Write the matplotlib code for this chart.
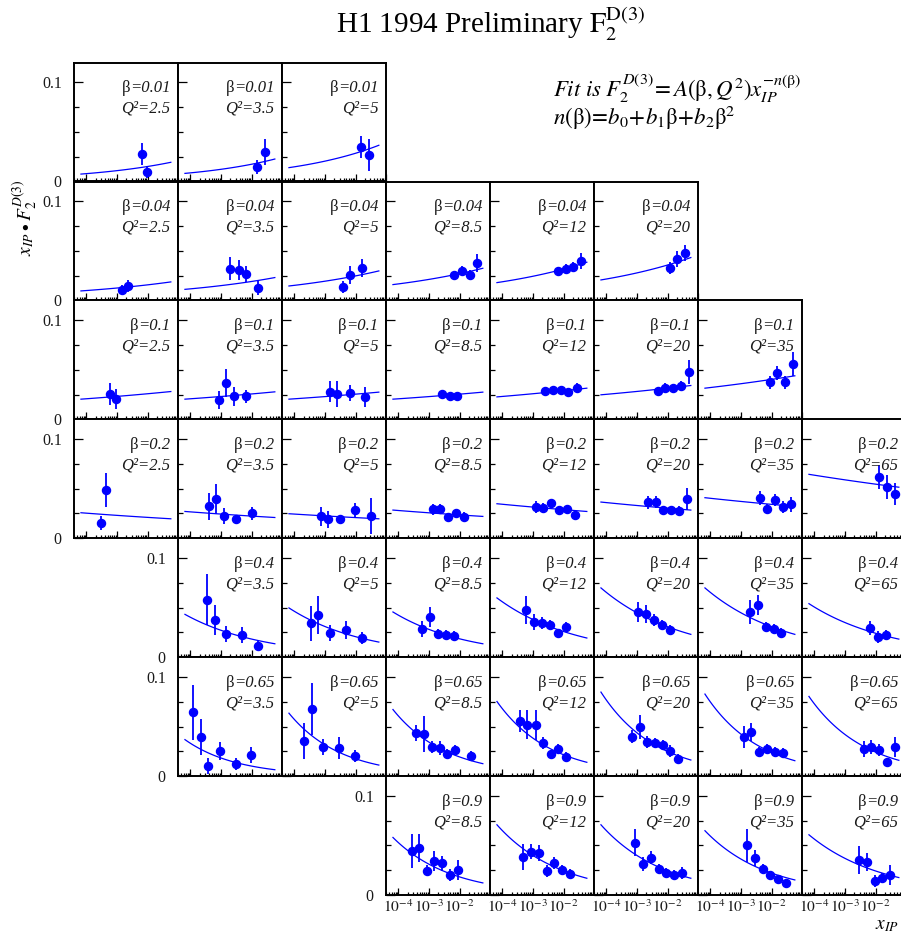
import numpy as np
import matplotlib
matplotlib.use('Agg')
import matplotlib.pyplot as plt
from matplotlib.offsetbox import TextArea, HPacker, VPacker, AnchoredOffsetbox
from matplotlib.ticker import LogLocator, FixedLocator, MultipleLocator, FixedFormatter, NullFormatter

plt.rcParams['font.family'] = ['Liberation Serif', 'DejaVu Serif']
plt.rcParams['mathtext.fontset'] = 'stix'

# ---------------- data ----------------
BETA_LABELS = ['0.01', '0.04', '0.1', '0.2', '0.4', '0.65', '0.9']
Q2_LABELS = ['2.5', '3.5', '5', '8.5', '12', '20', '35', '65']
ROW_COLS = [[0, 1, 2], [0, 1, 2, 3, 4, 5], [0, 1, 2, 3, 4, 5, 6],
            [0, 1, 2, 3, 4, 5, 6, 7], [1, 2, 3, 4, 5, 6, 7],
            [1, 2, 3, 4, 5, 6, 7], [3, 4, 5, 6, 7]]

FIT_XMIN, FIT_XMAX = 6.6e-5, 0.057
XLIM = (4e-5, 0.1)
YLIM = (0.0, 0.12)
XTICKS = [1e-4, 1e-3, 1e-2, 1e-1]
XTICK_LABELS = [r'$10^{-4}$', r'$10^{-3}$', r'$10^{-2}$', '']

# beta = 0.01
logx_b001 = [[-2.20, -2.03], [-1.82, -1.58], [-1.82, -1.57]]
f2_b001 = [[0.0274, 0.0091], [0.0145, 0.0297], [0.0351, 0.0270]]
err_b001 = [[0.011, 0.006], [0.007, 0.013], [0.011, 0.016]]
fit_b001 = [(0.0074, 0.0193), (0.0081, 0.0226), (0.0139, 0.0365)]

# beta = 0.04
logx_b004 = [[-2.84, -2.64], [-2.70, -2.43, -2.18, -1.80], [-2.43, -2.18, -1.80],
             [-2.18, -1.92, -1.67, -1.43], [-2.19, -1.94, -1.69, -1.43], [-1.94, -1.69, -1.43]]
f2_b004 = [[0.0108, 0.0149], [0.0321, 0.0304, 0.0264, 0.0125], [0.0139, 0.0257, 0.0328],
           [0.0253, 0.0294, 0.0257, 0.0375], [0.0294, 0.0314, 0.0334, 0.0395], [0.0331, 0.0416, 0.0476]]
err_b004 = [[0.005, 0.006], [0.012, 0.010, 0.008, 0.007], [0.006, 0.009, 0.009],
            [0.004, 0.005, 0.005, 0.009], [0.004, 0.005, 0.005, 0.008], [0.006, 0.008, 0.008]]
fit_b004 = [(0.0095, 0.0186), (0.0111, 0.0230), (0.0145, 0.0297),
            (0.0159, 0.0324), (0.0179, 0.0385), (0.0206, 0.0432)]

# beta = 0.1
logx_b01 = [[-3.23, -3.04], [-3.08, -2.84, -2.59, -2.19], [-2.84, -2.60, -2.20, -1.71],
            [-2.57, -2.33, -2.08], [-2.60, -2.35, -2.10, -1.85, -1.58],
            [-2.33, -2.08, -1.82, -1.58, -1.32], [-2.07, -1.83, -1.58, -1.32]]
f2_b01 = [[0.0253, 0.0203], [0.0196, 0.0368, 0.0230, 0.0230], [0.0280, 0.0257, 0.0264, 0.0223],
          [0.0257, 0.0236, 0.0230], [0.0284, 0.0297, 0.0291, 0.0277, 0.0318],
          [0.0287, 0.0314, 0.0311, 0.0341, 0.0476], [0.0372, 0.0466, 0.0372, 0.0561]]
err_b01 = [[0.011, 0.010], [0.009, 0.014, 0.010, 0.007], [0.011, 0.013, 0.008, 0.010],
           [0.003, 0.003, 0.003], [0.004, 0.004, 0.003, 0.004, 0.005],
           [0.004, 0.005, 0.005, 0.005, 0.012], [0.007, 0.007, 0.007, 0.012]]
fit_b01 = [(0.0203, 0.0280), (0.0203, 0.0277), (0.0203, 0.0274), (0.0203, 0.0274),
           (0.0226, 0.0314), (0.0247, 0.0341), (0.0314, 0.0439)]

# beta = 0.2
logx_b02 = [[-3.54, -3.35], [-3.41, -3.15, -2.90, -2.50, -1.99], [-3.13, -2.89, -2.50, -2.01, -1.49],
            [-2.88, -2.65, -2.39, -2.13, -1.87], [-2.90, -2.66, -2.41, -2.16, -1.90, -1.63],
            [-2.65, -2.39, -2.15, -1.89, -1.62, -1.37], [-2.39, -2.14, -1.89, -1.62, -1.37],
            [-1.88, -1.62, -1.36]]
f2_b02 = [[0.0152, 0.0486], [0.0321, 0.0395, 0.0223, 0.0189, 0.0250],
          [0.0220, 0.0189, 0.0189, 0.0284, 0.0226], [0.0290, 0.0297, 0.0213, 0.0257, 0.0216],
          [0.0314, 0.0301, 0.0358, 0.0284, 0.0290, 0.0233],
          [0.0361, 0.0365, 0.0284, 0.0284, 0.0277, 0.0395],
          [0.0402, 0.0294, 0.0389, 0.0318, 0.0341], [0.0618, 0.0517, 0.0449]]
err_b02 = [[0.007, 0.017], [0.014, 0.015, 0.008, 0.005, 0.007], [0.010, 0.009, 0.005, 0.007, 0.018],
           [0.006, 0.005, 0.004, 0.004, 0.005], [0.006, 0.005, 0.004, 0.004, 0.004, 0.004],
           [0.007, 0.006, 0.004, 0.004, 0.005, 0.011], [0.007, 0.005, 0.006, 0.006, 0.008],
           [0.012, 0.012, 0.011]]
fit_b02 = [(0.0257, 0.0196), (0.0270, 0.0209), (0.0247, 0.0196), (0.0284, 0.0220),
           (0.0348, 0.0270), (0.0365, 0.0284), (0.0409, 0.0321), (0.0645, 0.0515)]

# beta = 0.4
logx_b04 = [[-3.46, -3.20, -2.83, -2.31, -1.80], [-3.47, -3.22, -2.83, -2.32, -1.81],
            [-3.22, -2.96, -2.70, -2.45, -2.19], [-3.22, -2.96, -2.72, -2.45, -2.19, -1.94],
            [-2.96, -2.70, -2.45, -2.19, -1.94], [-2.71, -2.46, -2.20, -1.94, -1.68],
            [-2.19, -1.93, -1.67]]
f2_b04 = [[0.0581, 0.0372, 0.0233, 0.0220, 0.0111], [0.0341, 0.0426, 0.0247, 0.0277, 0.0193],
          [0.0280, 0.0409, 0.0236, 0.0226, 0.0213], [0.0473, 0.0355, 0.0341, 0.0321, 0.0247, 0.0307],
          [0.0453, 0.0432, 0.0375, 0.0321, 0.0277], [0.0456, 0.0524, 0.0304, 0.0284, 0.0240],
          [0.0297, 0.0203, 0.0223]]
err_b04 = [[0.026, 0.015, 0.008, 0.008, 0.005], [0.018, 0.019, 0.008, 0.009, 0.006],
           [0.008, 0.010, 0.005, 0.005, 0.005], [0.014, 0.008, 0.006, 0.005, 0.004, 0.005],
           [0.010, 0.009, 0.006, 0.005, 0.005], [0.012, 0.010, 0.005, 0.005, 0.005],
           [0.007, 0.006, 0.005]]
fit_b04 = [(0.0432, 0.0135), (0.0497, 0.0152), (0.0456, 0.0135), (0.0598, 0.0193),
           (0.0699, 0.0230), (0.0699, 0.0230), (0.0540, 0.0182)]

# beta = 0.65
logx_b065 = [[-3.93, -3.67, -3.42, -3.02, -2.52, -2.02], [-3.69, -3.43, -3.06, -2.54, -2.01],
             [-3.43, -3.17, -2.91, -2.65, -2.40, -2.15, -1.63],
             [-3.43, -3.19, -2.92, -2.68, -2.43, -2.17, -1.91],
             [-3.18, -2.91, -2.66, -2.41, -2.16, -1.91, -1.65],
             [-2.92, -2.66, -2.41, -2.16, -1.90, -1.64], [-2.39, -2.14, -1.89, -1.64, -1.37]]
f2_b065 = [[0.0642, 0.0392, 0.0098, 0.0257, 0.0118, 0.0213], [0.0351, 0.0676, 0.0294, 0.0280, 0.0206],
           [0.0439, 0.0422, 0.0294, 0.0284, 0.0223, 0.0260, 0.0199],
           [0.0557, 0.0520, 0.0514, 0.0338, 0.0223, 0.0270, 0.0196],
           [0.0399, 0.0493, 0.0345, 0.0331, 0.0318, 0.0250, 0.0176],
           [0.0392, 0.0446, 0.0240, 0.0270, 0.0247, 0.0230], [0.0274, 0.0290, 0.0264, 0.0142, 0.0297]]
err_b065 = [[0.028, 0.018, 0.008, 0.009, 0.006, 0.008], [0.018, 0.026, 0.008, 0.011, 0.006],
            [0.008, 0.018, 0.006, 0.007, 0.005, 0.005, 0.005],
            [0.011, 0.015, 0.015, 0.006, 0.004, 0.005, 0.005],
            [0.007, 0.012, 0.006, 0.005, 0.005, 0.006, 0.005],
            [0.011, 0.009, 0.005, 0.005, 0.005, 0.005], [0.008, 0.007, 0.006, 0.003, 0.010]]
fit_b065 = [(0.0368, 0.0064), (0.0635, 0.0111), (0.0672, 0.0125), (0.0753, 0.0139),
            (0.0848, 0.0162), (0.0828, 0.0155), (0.0804, 0.0159)]

# beta = 0.9
logx_b09 = [[-3.56, -3.32, -3.07, -2.83, -2.57, -2.32, -2.06],
            [-3.34, -3.08, -2.82, -2.56, -2.31, -2.06, -1.81],
            [-3.08, -2.82, -2.55, -2.30, -2.04, -1.78, -1.54],
            [-2.82, -2.55, -2.30, -2.04, -1.78, -1.53], [-2.54, -2.29, -2.03, -1.78, -1.52]]
f2_b09 = [[0.0446, 0.0473, 0.0247, 0.0345, 0.0318, 0.0199, 0.0253],
          [0.0385, 0.0439, 0.0426, 0.0240, 0.0321, 0.0250, 0.0213],
          [0.0530, 0.0314, 0.0378, 0.0260, 0.0220, 0.0199, 0.0220],
          [0.0500, 0.0375, 0.0264, 0.0206, 0.0166, 0.0125], [0.0355, 0.0334, 0.0139, 0.0176, 0.0203]]
err_b09 = [[0.017, 0.014, 0.006, 0.010, 0.008, 0.006, 0.010],
           [0.013, 0.008, 0.008, 0.006, 0.006, 0.005, 0.005],
           [0.014, 0.007, 0.007, 0.005, 0.005, 0.005, 0.006],
           [0.017, 0.008, 0.005, 0.004, 0.004, 0.004], [0.014, 0.009, 0.006, 0.005, 0.010]]
fit_b09 = [(0.0581, 0.0122), (0.0709, 0.0169), (0.0709, 0.0169), (0.0649, 0.0152), (0.0608, 0.0176)]

ROWS_LOGX = [logx_b001, logx_b004, logx_b01, logx_b02, logx_b04, logx_b065, logx_b09]
ROWS_F2 = [f2_b001, f2_b004, f2_b01, f2_b02, f2_b04, f2_b065, f2_b09]
ROWS_ERR = [err_b001, err_b004, err_b01, err_b02, err_b04, err_b065, err_b09]
ROWS_FIT = [fit_b001, fit_b004, fit_b01, fit_b02, fit_b04, fit_b065, fit_b09]

# ---------------- layout ----------------
W, H = 901, 938
fig = plt.figure(figsize=(W / 100, H / 100), dpi=100)
BLUE = '#0000ff'
TXT = '#1a1a1a'

COL0, COLW = 74.3, 104.0
ROW0, ROWH = 181.4, 118.93
PW, PH = 104.0, 118.8

for r, cols in enumerate(ROW_COLS):
    for k, c in enumerate(cols):
        left = (COL0 + COLW * c) / W
        bottom = 1 - (ROW0 + ROWH * r) / H
        ax = fig.add_axes([left, bottom, PW / W, PH / H])
        ax.set_xscale('log')
        ax.set_xlim(*XLIM)
        ax.set_ylim(*YLIM)

        x = np.power(10.0, ROWS_LOGX[r][k])
        y = np.array(ROWS_F2[r][k])
        e = np.array(ROWS_ERR[r][k])
        lo, hi = ROWS_FIT[r][k]
        xx = np.logspace(np.log10(FIT_XMIN), np.log10(FIT_XMAX), 120)
        p = np.log(hi / lo) / np.log(FIT_XMAX / FIT_XMIN)
        ax.plot(xx, lo * (xx / FIT_XMIN) ** p, color=BLUE, lw=0.9, zorder=2)
        ax.errorbar(x, y, yerr=e, fmt='o', color=BLUE, ms=5.8, mec=BLUE,
                    elinewidth=1.3, capsize=0, zorder=3)

        for s in ax.spines.values():
            s.set_linewidth(1.4)
            s.set_color('black')

        ax.yaxis.set_major_locator(FixedLocator([0.0, 0.1]))
        ax.yaxis.set_minor_locator(MultipleLocator(0.025))
        ax.xaxis.set_major_locator(FixedLocator(XTICKS))
        ax.xaxis.set_minor_locator(LogLocator(base=10, subs=np.arange(2, 10), numticks=20))
        ax.xaxis.set_minor_formatter(NullFormatter())
        ax.yaxis.set_minor_formatter(NullFormatter())
        ax.tick_params(which='both', direction='in', top=False, right=False, width=0.9)
        ax.tick_params(axis='x', which='major', length=5.0)
        ax.tick_params(axis='x', which='minor', length=2.5)
        ax.tick_params(axis='y', which='major', length=6.5)
        ax.tick_params(axis='y', which='minor', length=3.5)

        if k == 0:
            ax.yaxis.set_major_formatter(FixedFormatter(['0', '0.1']))
            ax.tick_params(axis='y', labelsize=11.5, pad=9, labelcolor=TXT)
        else:
            ax.tick_params(axis='y', labelleft=False)
        if r == len(ROW_COLS) - 1:
            ax.xaxis.set_major_formatter(FixedFormatter(XTICK_LABELS))
            ax.tick_params(axis='x', labelsize=11.2, pad=3, labelcolor=TXT)
        else:
            ax.tick_params(axis='x', labelbottom=False)

        # panel label
        fs = 12
        l1 = HPacker(children=[TextArea('β', textprops=dict(fontsize=fs, color=TXT)),
                               TextArea('=' + BETA_LABELS[r],
                                        textprops=dict(fontsize=fs, style='italic', color=TXT))],
                     align='baseline', pad=0, sep=0)
        l2 = TextArea('Q²=' + Q2_LABELS[c],
                      textprops=dict(fontsize=fs, style='italic', color=TXT))
        vp = VPacker(children=[l1, l2], align='right', pad=0, sep=3)
        box = AnchoredOffsetbox(loc='upper right', child=vp, pad=0, borderpad=0, frameon=False,
                                bbox_to_anchor=(0.925, 0.85), bbox_transform=ax.transAxes)
        ax.add_artist(box)

# ---------------- texts ----------------
fig.text(491 / W, 1 - 33 / H, r'H1 1994 Preliminary $\mathrm{F}_{2}^{\mathrm{D(3)}}$',
         ha='center', va='baseline', fontsize=21, color='black')
fig.text(553 / W, 1 - 97 / H,
         r'$Fit\ is\ F_2^{D(3)}\!=A(\mathrm{\beta},Q^2)x_{IP}^{-n(\mathrm{\beta})}$',
         ha='left', va='baseline', fontsize=16.5, color='black')
fig.text(553 / W, 1 - 125 / H,
         r'$n(\mathrm{\beta})\!=\!b_0\!+\!b_1\mathrm{\beta}\!+\!b_2\mathrm{\beta}^2$',
         ha='left', va='baseline', fontsize=16.5, color='black')
fig.text(25 / W, 1 - 218 / H, r'$x_{IP}\bullet F_2^{D(3)}$', rotation=90,
         ha='center', va='center', fontsize=14, color='black')
fig.text(875 / W, 1 - 925 / H, r'$x_{IP}$', ha='left', va='center', fontsize=14, color='black')

fig.savefig('out.png', dpi=100)
